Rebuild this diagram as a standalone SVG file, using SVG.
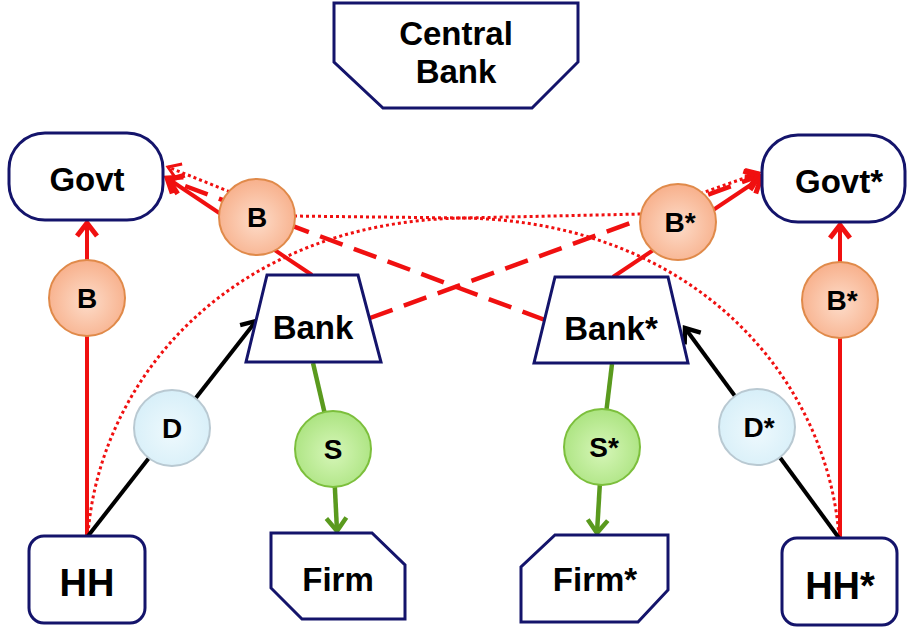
<svg xmlns="http://www.w3.org/2000/svg" width="907" height="628" viewBox="0 0 907 628">
<style>
.node{fill:#fff;stroke:#14146b;stroke-width:3;stroke-linejoin:miter}
.t{font-family:"Liberation Sans",Arial,sans-serif;font-weight:bold;fill:#000;text-anchor:middle}
.red{fill:none;stroke:#f01010;stroke-width:4}
.dash{fill:none;stroke:#f01010;stroke-width:4.5;stroke-dasharray:24 12}
.dot{fill:none;stroke:#f01010;stroke-width:3;stroke-dasharray:3 3}
.blk{fill:none;stroke:#000;stroke-width:4}
.grn{fill:none;stroke:#5a9a1e;stroke-width:4.5}
.cb{fill:url(#gB);stroke:#e08a4a;stroke-width:2}
.cd{fill:url(#gD);stroke:#b9c9d2;stroke-width:2}
.cs{fill:url(#gS);stroke:#7cbf3c;stroke-width:2}
</style>
<defs>
<marker id="ar" markerUnits="userSpaceOnUse" markerWidth="30" markerHeight="30" refX="0" refY="0" viewBox="-16 -15 20 30" orient="auto"><path d="M-13,-10 L0,0 L-13,10" fill="none" stroke="#f01010" stroke-width="5"/></marker>
<marker id="ard" markerUnits="userSpaceOnUse" markerWidth="30" markerHeight="30" refX="0" refY="0" viewBox="-16 -15 20 30" orient="auto"><path d="M-12,-8 L0,0 L-12,8" fill="none" stroke="#f01010" stroke-width="3"/></marker>
<marker id="ak" markerUnits="userSpaceOnUse" markerWidth="30" markerHeight="30" refX="0" refY="0" viewBox="-16 -15 20 30" orient="auto"><path d="M-13,-10 L0,0 L-13,10" fill="none" stroke="#000" stroke-width="4.5"/></marker>
<marker id="ag" markerUnits="userSpaceOnUse" markerWidth="30" markerHeight="30" refX="0" refY="0" viewBox="-16 -15 20 30" orient="auto"><path d="M-13,-10 L0,0 L-13,10" fill="none" stroke="#5a9a1e" stroke-width="4.5"/></marker>
<radialGradient id="gB" cx="50%" cy="55%" r="60%"><stop offset="0" stop-color="#fddcc9"/><stop offset="1" stop-color="#f7ac86"/></radialGradient>
<radialGradient id="gD" cx="50%" cy="55%" r="60%"><stop offset="0" stop-color="#eef9fd"/><stop offset="1" stop-color="#d5eef8"/></radialGradient>
<radialGradient id="gS" cx="50%" cy="55%" r="60%"><stop offset="0" stop-color="#d6f6b8"/><stop offset="1" stop-color="#a8e27c"/></radialGradient>
</defs>

<g id="connectors">
<path class="red" d="M87,536 L87,223" marker-end="url(#ar)"/>
<path class="red" d="M840,538 L840,225" marker-end="url(#ar)"/>
<path class="red" d="M312,275 L167,178" marker-end="url(#ar)"/>
<path class="red" d="M613,277 L761,178" marker-end="url(#ar)"/>
<path class="dash" d="M370,318 L759,176" marker-end="url(#ar)"/>
<path class="dash" d="M545,320 L169,180" marker-end="url(#ar)"/>
<path class="dot" d="M88,534 C100,380 230,222 463,218 L642,214 L759,173" marker-end="url(#ard)"/>
<path class="dot" d="M839,536 C827,380 697,222 463,218 L290,216 L168,167" marker-end="url(#ard)"/>
<path class="blk" d="M88,536 L256,321" marker-end="url(#ak)"/>
<path class="blk" d="M839,538 L685,328" marker-end="url(#ak)"/>
<path class="grn" d="M313,363 L333,449"/>
<path class="grn" d="M333,449 L337,531" marker-end="url(#ag)"/>
<path class="grn" d="M612,364 L602,447"/>
<path class="grn" d="M602,447 L597,533" marker-end="url(#ag)"/>
</g>

<g id="central-bank"><path class="node" d="M334,3 L578,3 L578,62 L532,108 L383,108 L334,62 Z"/><text class="t" x="456" y="45" font-size="33">Central</text><text class="t" x="456" y="83" font-size="33">Bank</text></g>
<g id="govt"><rect class="node" x="9" y="133" width="154" height="87" rx="36"/><text class="t" x="87" y="191" font-size="33">Govt</text></g>
<g id="govt-star"><rect class="node" x="762" y="135" width="143" height="87" rx="36"/><text class="t" x="839" y="193" font-size="33">Govt*</text></g>
<g id="bank"><path class="node" d="M267,275 L358,275 L381,362 L246,362 Z"/><text class="t" x="313" y="339" font-size="33">Bank</text></g>
<g id="bank-star"><path class="node" d="M555,277 L668,277 L688,363 L534,363 Z"/><text class="t" x="611" y="340" font-size="33">Bank*</text></g>
<g id="hh"><rect class="node" x="29" y="536" width="116" height="87" rx="15"/><text class="t" x="87" y="596" font-size="38">HH</text></g>
<g id="hh-star"><rect class="node" x="782" y="538" width="115" height="87" rx="15"/><text class="t" x="840" y="599" font-size="38">HH*</text></g>
<g id="firm"><path class="node" d="M271,533 L372,533 L405,565 L405,619 L302,619 L271,588 Z"/><text class="t" x="338" y="591" font-size="33">Firm</text></g>
<g id="firm-star"><path class="node" d="M555,535 L668,535 L668,590 L638,622 L521,622 L521,567 Z"/><text class="t" x="595" y="591" font-size="33">Firm*</text></g>

<g id="label-B-left"><circle class="cb" cx="87" cy="298" r="38"/><text class="t" x="87" y="308" font-size="28">B</text></g>
<g id="label-B-top"><circle class="cb" cx="257" cy="217" r="38"/><text class="t" x="257" y="227" font-size="28">B</text></g>
<g id="label-Bstar-top"><circle class="cb" cx="678" cy="222" r="38"/><text class="t" x="680" y="232" font-size="28">B*</text></g>
<g id="label-Bstar-right"><circle class="cb" cx="840" cy="300" r="38"/><text class="t" x="842" y="310" font-size="28">B*</text></g>
<g id="label-D"><circle class="cd" cx="172" cy="428" r="38"/><text class="t" x="172" y="438" font-size="28">D</text></g>
<g id="label-Dstar"><circle class="cd" cx="757" cy="427" r="38"/><text class="t" x="759" y="437" font-size="28">D*</text></g>
<g id="label-S"><circle class="cs" cx="333" cy="449" r="38"/><text class="t" x="333" y="459" font-size="28">S</text></g>
<g id="label-Sstar"><circle class="cs" cx="602" cy="447" r="38"/><text class="t" x="604" y="457" font-size="28">S*</text></g>
</svg>
